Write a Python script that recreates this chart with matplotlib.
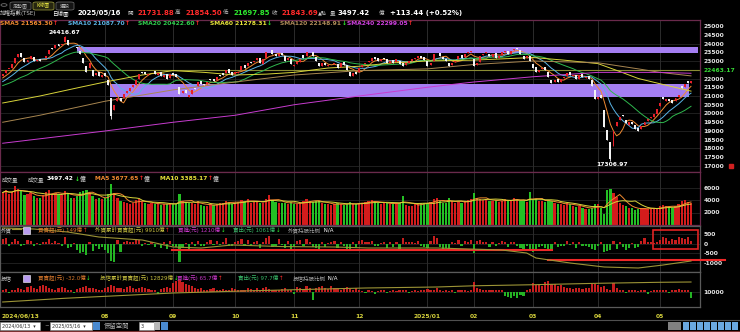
import numpy as np
import pandas as pd
import matplotlib
matplotlib.use("Agg")
import matplotlib.pyplot as plt
from matplotlib.patches import Rectangle, FancyBboxPatch

plt.rcParams['font.family'] = ['DejaVu Sans', 'Noto Sans CJK TC']

# ---------------- data ----------------
month_labels = ['2024/06/13', '08', '09', '10', '11', '12', '2025/01', '02', '03', '04', '05']
month_pos = [0, 33, 55, 75, 94, 115, 137, 152, 171, 192, 212]

closes = [
    22260, 22500, 22570, 22820, 23180, 23410, 23250, 22930, 23030, 23300, 23000, 23030,
    23000, 23070, 23300, 23650, 23700, 23900, 23880, 24000, 24390, 23900, 23880, 23930, 23750, 23400,
    22870, 22400, 22870, 22150, 22300, 22150, 22200,
    22140, 21640, 19830, 20500, 20900, 20700, 21100, 21300, 21450, 21620, 21900, 22250, 22300, 22240,
    22280, 22400, 22250, 22300, 22150, 22200, 22000, 22270,
    22200, 22100, 21100, 21300, 21150, 21050, 21340, 21400, 21800, 21700, 21650, 21800, 21900, 21850,
    22100, 22150, 22200, 22500, 22300, 22220,
    22400, 22400, 22700, 22600, 22900, 22900, 23000, 23200, 22900, 23100, 23500, 23600, 23400, 23300,
    23400, 23350, 23000, 23200, 22850,
    22800, 22950, 23100, 23200, 23500, 23550, 23300, 23000, 22700, 22900, 22750, 22750, 22800, 22900,
    22600, 22900, 22800, 22500, 22150, 22300, 22260,
    22600, 22800, 22900, 23000, 23200, 23100, 23000, 23100, 23100, 22900, 23000, 22900, 23100, 22850,
    22700, 22900, 23000, 23100, 23200, 23300, 23200, 23035,
    22700, 22900, 23400, 23550, 23300, 23100, 23000, 22700, 22900, 23000, 23300, 23200, 23400, 23500, 23600,
    22700, 22900, 23300, 23400, 23500, 23300, 23400, 23200, 23300, 23500, 23600, 23400, 23600, 23700,
    23700, 23400, 23100, 23300, 23000,
    22600, 22400, 22500, 22600, 22500, 22100, 21750, 21900, 21800, 22000, 22100, 22300, 22200, 22200,
    22000, 22200, 22100, 22100, 22000, 21600, 20800,
    20950, 20900, 19232, 18460, 17391, 19000, 19530, 19800, 19830, 19460, 19500, 19400, 19100, 19000,
    19300, 19500, 19700, 19800, 19950, 20235,
    20600, 20800, 20850, 20700, 20600, 20900, 21050, 21450, 21700, 21730, 21843.69,
]
opens = [
    22150, 22300, 22550, 22600, 22900, 23250, 23450, 23200, 22950, 23100, 23250, 23000,
    23100, 23050, 23150, 23400, 23750, 23750, 23950, 23900, 24100, 24200, 23850, 23900, 23800, 23600,
    23200, 22700, 22600, 22500, 22200, 22350, 22100,
    22300, 21900, 20900, 20200, 20700, 20900, 20900, 21150, 21300, 21500, 21650, 22000, 22350, 22350,
    22200, 22350, 22450, 22200, 22350, 22100, 22250, 22050,
    22300, 22250, 21500, 21150, 21350, 20950, 21100, 21450, 21550, 21850, 21700, 21700, 21950, 21950,
    21900, 22200, 22300, 22300, 22550, 22350,
    22250, 22300, 22500, 22750, 22700, 22950, 22950, 23050, 23150, 22850, 23200, 23550, 23650, 23400,
    23300, 23450, 23300, 23050, 23100,
    22700, 22850, 22950, 23350, 23300, 23600, 23500, 23250, 22900, 22700, 22900, 22700, 22750, 22850,
    22850, 22650, 22950, 22750, 22400, 22150, 22350,
    22350, 22650, 22850, 22950, 23000, 23250, 23150, 23000, 23150, 23100, 22900, 23050, 22950, 23000,
    22900, 22750, 22900, 23000, 23100, 23200, 23300, 23250,
    23000, 22750, 23000, 23600, 23450, 23250, 23100, 22900, 22750, 22950, 23100, 23350, 23250, 23450, 23500,
    23100, 22800, 22950, 23350, 23450, 23400, 23250, 23450, 23150, 23350, 23500, 23550, 23400, 23650,
    23750, 23650, 23300, 23150, 23300,
    22850, 22650, 22350, 22550, 22650, 22400, 21900, 21800, 21950, 21800, 22050, 22150, 22350, 22150,
    22200, 21950, 22250, 22050, 22150, 21900, 21350,
    20850, 21050, 20200, 19050, 18370, 18150, 19300, 19650, 19900, 19650, 19350, 19500, 19350, 19150,
    19100, 19350, 19550, 19750, 19800, 19950,
    20400, 20950, 20700, 20850, 20750, 20700, 20950, 21550, 21500, 21850, 21731.88,
]
prev_close0 = 22100
peak_high = (20, 24416.67)
trough_low = (196, 17306.97)
aug5_low = (35, 19662)

# 19 closes before 2024/06/13, for the short moving averages
pre_closes = [21250, 21200, 21300, 21500, 21350, 21600, 21600, 21500, 21200, 21200,
              21400, 21350, 21600, 21800, 21900, 21850, 21950, 22000, 22100]

# long moving averages
sma60_idx = [0, 12, 25, 33, 45, 55, 65, 75, 85, 94, 105, 115, 126, 137, 152, 171, 181, 192, 199, 205, 212, 222]
sma60_val = [20600, 21000, 21500, 21800, 22200, 22450, 22350, 22200, 22250, 22350, 22600, 22700,
             22900, 23000, 23050, 23200, 23050, 22850, 22400, 22000, 21700, 21278.31]
sma120_idx = [0, 12, 33, 55, 75, 94, 115, 137, 152, 171, 192, 205, 212, 222]
sma120_val = [19500, 19900, 20700, 21350, 21800, 22200, 22450, 22550, 22800, 23000, 22900, 22550, 22350, 22148.91]
sma240_idx = [0, 33, 55, 75, 94, 115, 137, 152, 171, 192, 212, 222]
sma240_val = [18300, 19000, 19500, 19900, 20500, 21000, 21500, 21800, 22100, 22350, 22350, 22299.05]

ref_line = 22463.17
band_hi = (23480, 23820, 24.0, 224.3)
band_lo = (20960, 21670, 34.6, 221.4)

volume = [
    5200, 5600, 5000, 5300, 6200, 5700, 5400, 4800, 5000, 5200, 4600, 4300,
    4400, 4800, 5300, 5600, 4900, 5100, 5000, 4800, 5500, 5000, 4300, 4400, 4600, 5300, 5400, 5600,
    5200, 4700, 4200, 4300, 4200,
    4300, 5000, 6500, 5200, 4300, 3900, 3700, 3600, 3400, 3600, 4000, 4200, 3700, 3500, 3400, 3600,
    3300, 3400, 3200, 3300, 3400, 3500,
    3400, 3300, 5000, 3800, 3700, 3600, 3500, 3400, 3800, 3200, 3000, 3100, 3300, 3200, 3300, 3500,
    3600, 3900, 3700, 3400,
    3600, 3700, 4000, 3800, 4100, 3600, 3700, 3900, 3600, 3500, 4200, 4800, 4000, 3700, 3600, 3500,
    3600, 3400, 3700,
    3400, 3300, 3500, 3800, 4200, 3900, 3700, 3800, 3900, 3500, 3400, 3300, 3200, 3300, 3500, 3400,
    3200, 3300, 3700, 3400, 3300,
    3500, 3600, 3700, 3800, 4000, 3700, 3500, 3400, 3600, 3500, 3300, 3400, 3500, 3600, 4600, 3200,
    3100, 3000, 3300, 3400, 3500, 3600,
    3500, 3700, 4100, 4400, 3800, 3600, 3500, 4400, 3800, 3500, 3700, 3600, 3800, 4000, 4100,
    5100, 4300, 4200, 4000, 4100, 3900, 3800, 4000, 3700, 3900, 4200, 3800, 4000, 4300, 4100, 3800,
    3900, 3700, 5300,
    4000, 4200, 3900, 3800, 3700, 4000, 3800, 3500, 3300, 3400, 3200, 3500, 3300, 3100, 2900, 3000,
    2800, 2600, 2500, 2700, 3300,
    3300, 2800, 1800, 5600, 5700, 5100, 4500, 3500, 3200, 3000, 2800, 2700, 2400, 2500, 2700, 2800,
    2600, 2500, 2700, 2600,
    3000, 3200, 3100, 2900, 2800, 3000, 3300, 3900, 4000, 3700, 3497.42,
]

foreign = [
    250, 300, -80, 120, 280, 150, -100, -60, 200, 150, -120, 50,
    -50, 80, 120, 250, 60, 150, 40, -80, 350, -200, -150, 60, -300, -450, -400, -600, 80, -350,
    -100, -250, -150,
    -300, -450, -900, -950, 200, -400, 100, 150, 120, 80, 250, 200, -100, 50, -50, 100, -150, 60,
    -200, 80, -250, 150,
    -100, -150, -950, -200, 60, -300, 100, -100, 150, -80, -120, 100, 200, -60, 150, -50, 80, 300,
    -100, -80,
    120, 150, 250, -100, 200, -80, 120, 150, -200, 80, 300, 400, -150, -100, 250, -60, -200, 150, -250,
    -100, 150, 200, -80, 250, 100, -150, -200, -300, 80, -150, 60, 100, 150, -200, 120, -100, -250,
    -300, 80, -150,
    150, 200, 100, 80, 150, -100, -120, 60, 100, -200, 80, -150, 100, -250, 300, 120, 100, 80, 60,
    150, -100, -150,
    -200, 150, 400, 300, -150, -250, -200, -350, 100, 60, 200, -80, 150, 100, 200,
    -500, 150, 200, 120, 100, -150, 80, -100, 60, 150, 100, -150, 100, 120, -80, -200, -250, -100, -300,
    -400, -250, -150, -100, -200, -300, -350, 100, -150, -100, -80, 150, -60, 80, -200, 100, -100,
    -80, -150, -250, -300,
    -100, 80, -400, -350, -300, 150, -250, 100, -150, -300, -200, 50, -200, -150, 150, 300, 100, 80, 60, 120,
    200, 350, 300, 150, 250, 200, 380, 300, 250, 350, 149,
]
fcum_idx = [0, 10, 21, 31, 45, 55, 64, 74, 90, 107, 118, 140, 161, 169, 172, 183, 194, 205, 213, 222]
fcum_val = [16510, 16310, 15710, 14710, 14110, 12710, 12510, 13110, 12800, 12710, 12510, 12510,
            12110, 11510, 10510, 9510, 8710, 8510, 9110, 9910]

trust = [
    10, 15, -5, 12, 8, 20, 15, 10, 25, 30, 20, 15,
    28, 35, 30, 22, 15, 10, 18, 25, 20, 12, 8, -5, 15, 20, 25, 30, 18, 22, 15, 10, 12,
    20, 25, 35, 30, 18, 22, 15, 25, 28, 20, 15, 18, 25, 20, 15, 12, 10, -8, 15, 20, 25, 18,
    45, 55, 60, 50, 40, 35, 28, 20, 15, 18, 12, 10, 15, 20, 12, 8, 15, 10, 12, 18,
    15, 10, 12, 8, 20, 15, 10, 18, 12, 22, 25, 15, 10, 12, 8, 15, 20, 10, 12,
    -10, 25, 20, 15, 30, 22, -40, 18, 25, 30, 20, 15, 28, 22, 18, 12, 20, 25, 15, 10, 18,
    8, 5, -5, 10, 6, -8, 5, 8, 10, -5, 6, 8, 5, 10, 12, 8, -6, 5, 10, 6, 8, 10,
    15, 12, 10, 18, 8, 5, 10, 6, 8, -5, 10, 12, 8, 6, 10,
    50, 20, 15, 10, 12, 8, 10, 12, 8, 10, -20, -25, -30, -22, -28, -15, -20, 10, 15,
    45, 35, 40, 30, 50, 55, 42, 38, 30, 35, 25, 20, 18, 15, 22, 20, 15, 18, 22, 38, 40,
    35, 25, 30, 15, 12, 45, 20, 10, 8, -5, 10, 12, 8, 5, 10, 8, -8, 6, 10, 8,
    10, 8, 12, -6, 10, 8, 15, 10, 12, 8, -32.0,
]
tcum_idx = [0, 20, 40, 55, 80, 117, 140, 152, 170, 192, 212, 222]
tcum_val = [10829, 11200, 11500, 11729, 11950, 12229, 12329, 12450, 12550, 12700, 12800, 12829]

assert len(closes) == len(opens) == len(volume) == len(foreign) == len(trust) == 223

# ---------------- figure ----------------
W, H = 740, 332
fig = plt.figure(figsize=(W / 100, H / 100), dpi=100, facecolor='black')
rend = fig.canvas.get_renderer()

RED, WHITE, GREEN = '#e8202a', '#f2f2f2', '#22c422'
GRID = '#2c2c2c'
FRAME1, FRAME2 = '#6a2a4c', '#5a5a5a'
XMIN, XMAX = -0.87, 224.9


def fx(x):
    return x / W


def fy(y):
    return 1 - y / H


def put(x, y, s, c, size=4.0, bold=False, ha='left'):
    t = fig.text(fx(x), fy(y), s, color=c, fontsize=size,
                 fontweight='bold' if bold else 'normal', ha=ha, va='center')
    return t.get_window_extent(renderer=rend).width


def chain(x, y, parts, size=4.0, bold=False):
    for s, c in parts:
        x += put(x, y, s, c, size, bold) + 0.5
    return x


def panel(y0, y1, frame):
    ax = fig.add_axes([0, fy(y1), 700 / W, (y1 - y0) / H])
    ax.set_facecolor('black')
    ax.set_xlim(XMIN, XMAX)
    ax.set_xticks([])
    for s in ax.spines.values():
        s.set_color(frame)
        s.set_linewidth(0.9)
    for v in month_pos[1:]:
        ax.axvline(v, color=GRID, lw=0.7, zorder=0)
    return ax


def right_ticks(ax, ticks, labels):
    ax.yaxis.tick_right()
    ax.set_yticks(ticks, labels, fontweight='bold')
    ax.tick_params(axis='y', length=0, pad=2.5, labelsize=4.3, labelcolor='#e6e6e6')


idx = np.arange(len(closes))
o = np.array(opens, float)
c = np.array(closes, float)
up = c >= o
prev = np.r_[prev_close0, c[:-1]]

# ---------- price panel ----------
axp = panel(20, 172, FRAME1)
axp.set_ylim(16657, 25343)
pt = [p for p in range(25000, 16999, -500) if p != 22500]
right_ticks(axp, pt, [str(p) for p in pt])
for p in range(24000, 16999, -1000):
    axp.axhline(p, color=GRID, lw=0.5, zorder=0)

for lo_, hi_, i0, i1 in (band_hi, band_lo):
    axp.add_patch(Rectangle((i0, lo_), i1 - i0, hi_ - lo_, color='#a47ef2', lw=0, zorder=1))
axp.axhline(ref_line, color='#8a8c34', lw=0.8, zorder=2)

s_all = pd.Series(pre_closes + closes)
n_pre = len(pre_closes)
sma5 = s_all.rolling(5).mean().iloc[n_pre:].values
sma10 = s_all.rolling(10).mean().iloc[n_pre:].values
sma20 = s_all.rolling(20).mean().iloc[n_pre:].values
axp.plot(idx, sma5, color='#f08a30', lw=0.7, zorder=3)
axp.plot(idx, sma10, color='#5ab4e6', lw=0.7, zorder=3)
axp.plot(idx, sma20, color='#2fb84e', lw=0.7, zorder=3)
axp.plot(sma60_idx, sma60_val, color='#d8d43a', lw=0.7, zorder=3)
axp.plot(sma120_idx, sma120_val, color='#a88650', lw=0.7, zorder=3)
axp.plot(sma240_idx, sma240_val, color='#c83cd0', lw=0.7, zorder=3)

hi = np.maximum(o, c)
lo = np.minimum(o, c)
hi_w = hi.copy()
lo_w = lo.copy()
hi_w[peak_high[0]] = peak_high[1]
lo_w[trough_low[0]] = trough_low[1]
lo_w[aug5_low[0]] = aug5_low[1]
ccol = np.where(up, RED, WHITE)
axp.vlines(idx, lo_w, hi_w, colors=ccol, lw=0.6, zorder=4)
axp.bar(idx, np.maximum(hi - lo, 25), bottom=lo, width=0.64, color=ccol, lw=0, zorder=4)

axp.text(peak_high[0], peak_high[1] + 80, '24416.67', color='white', fontsize=4.3,
         fontweight='bold', ha='center', va='bottom')
axp.text(trough_low[0] + 0.5, trough_low[1] - 90, '17306.97', color='white', fontsize=4.3,
         fontweight='bold', ha='center', va='top')
put(703, 70, '22463.17', '#36d836', 4.3, True)
fig.patches.append(Rectangle((fx(729), fy(168)), 4 / W, 4 / H, color='#d02020',
                             transform=fig.transFigure, figure=fig))

# ---------- volume panel ----------
axv = panel(172, 225, FRAME1)
axv.set_ylim(0, 8480)
right_ticks(axv, [2000, 4000, 6000], ['2000', '4000', '6000'])
for v in (2000, 4000, 6000):
    axv.axhline(v, color=GRID, lw=0.5, zorder=0)
vol = np.array(volume, float)
vcol = np.where(c >= prev, '#d41c1c', '#24c024')
axv.bar(idx, vol, width=0.72, color=vcol, lw=0, zorder=2)
vs = pd.Series(vol)
axv.plot(idx, vs.rolling(5, min_periods=1).mean(), color='#f08a30', lw=0.7, zorder=3)
axv.plot(idx, vs.rolling(10, min_periods=1).mean(), color='#d8d43a', lw=0.7, zorder=3)

# ---------- foreign investors panel ----------
axf = panel(226, 272, FRAME2)
axf.set_ylim(-1474, 947)
for v in (500, 0, -500, -1000):
    axf.axhline(v, color=GRID, lw=0.5, zorder=0)
fv = np.array(foreign, float)
axf.bar(idx, fv, width=0.7, color=np.where(fv >= 0, '#c81e1e', '#24b424'), lw=0, zorder=2)
axf2 = axf.twinx()
axf2.set_ylim(7710, 16910)
axf2.set_yticks([])
axf2.set_xlim(XMIN, XMAX)
axf2.plot(fcum_idx, fcum_val, color='#9c9436', lw=0.8, zorder=3)
for s in axf2.spines.values():
    s.set_visible(False)
right_ticks(axf, [500, 0, -500, -1000], ['500', '0', '-500', '-1000'])
axf.add_patch(Rectangle((209.8, -263), 14.5, 1000, fill=False, ec='#e02424', lw=1.2, zorder=5))
axf.plot([54.7, 177.2], [-316, -316], color='#f02828', lw=1.5, zorder=5)
axf.plot([176, 233], [-842, -842], color='#f02828', lw=1.5, zorder=5, clip_on=False)

# ---------- investment trust panel ----------
axt = panel(272, 307, FRAME2)
axt.set_ylim(-75, 100)
axt.set_yticks([])
axt.axhline(0, color=GRID, lw=0.5, zorder=0)
tv = np.array(trust, float)
axt.bar(idx, tv, width=0.7, color=np.where(tv >= 0, '#c81e1e', '#24b424'), lw=0, zorder=2)
axt2 = axt.twinx()
axt2.set_ylim(10329, 13829)
axt2.set_yticks([])
axt2.set_xlim(XMIN, XMAX)
axt2.plot(tcum_idx, tcum_val, color='#9c9436', lw=0.8, zorder=3)
for s in axt2.spines.values():
    s.set_visible(False)
axt.set_yticks([])
put(703, 292, '10000', '#e6e6e6', 4.3, True)

# ---------- date labels ----------
for pos, lab in zip(month_pos, month_labels):
    xp = 2.7 + 3.1 * pos
    if pos == 0:
        put(1, 316, lab, '#d6d23c', 4.3, True)
    else:
        put(xp, 316, lab, '#d6d23c', 4.3, True, ha='center')
fig.add_artist(plt.Line2D([0, 1], [fy(320), fy(320)], color='#505050', lw=0.8))
fig.add_artist(plt.Line2D([0, 1], [fy(331), fy(331)], color='#7a3030', lw=0.8))

# ---------- top tabs and quote header ----------
fig.add_artist(plt.Circle((fx(4), fy(5)), 3 / W, color='#707070', fill=False, lw=0.6))
for (x0, x1, s, tc, fc, ec) in [(10, 31, '走勢圖', '#b0b0b0', '#141414', '#707070'),
                                 (33, 54, 'K線圖', '#e2e040', '#262610', '#a0a040'),
                                 (56, 74, '選股', '#b0b0b0', '#141414', '#707070')]:
    fig.add_artist(FancyBboxPatch((fx(x0), fy(10)), (x1 - x0) / W, 8 / H,
                                  boxstyle='round,pad=0,rounding_size=0.004',
                                  fc=fc, ec=ec, lw=0.5, transform=fig.transFigure))
    put((x0 + x1) / 2, 6, s, tc, 3.6, ha='center')

GRAY = '#c4c4c4'
put(0, 13, '加權指數(TSE)', GRAY, 4.0)
put(52, 13, '日線圖', 'white', 4.0)
put(77, 13, '2025/05/16', 'white', 5.0, True)
put(127, 13, '開', GRAY, 4.0)
put(137, 13, '21731.88', '#ff2a2a', 5.0, True)
put(175, 13, '高', GRAY, 4.0)
put(185, 13, '21854.50', '#ff2a2a', 5.0, True)
put(223, 13, '低', GRAY, 4.0)
put(233, 13, '21697.85', '#2ee82e', 5.0, True)
put(272, 13, '收', GRAY, 4.0)
put(282, 13, '21843.69', '#ff2a2a', 5.0, True)
put(318, 13, '▲點', GRAY, 3.6)
put(330, 13, '量', GRAY, 4.0)
put(338, 13, '3497.42', 'white', 5.0, True)
put(379, 13, '億', GRAY, 4.0)
put(390, 13, '+113.44 (+0.52%)', 'white', 5.0, True)

UPA, DNA = '#ff2a2a', '#2ee82e'
sma_row = [(0, 'SMA5 21563.30', '#f08a30', '↑', UPA),
           (68, 'SMA10 21087.70', '#5ab4e6', '↑', UPA),
           (138, 'SMA20 20422.60', '#2fd04e', '↑', UPA),
           (210, 'SMA60 21278.31', '#e8e43a', '↓', DNA),
           (280, 'SMA120 22148.91', '#b08c58', '↓', DNA),
           (347, 'SMA240 22299.05', '#d040e0', '↑', UPA)]
for x0, s, col, arr, acol in sma_row:
    chain(x0, 23.5, [(s, col), (arr, acol)], 4.3, True)

# volume header
put(2, 179, '成交量', GRAY, 4.0)
put(28, 179, '成交量', GRAY, 4.0)
chain(47, 179, [('3497.42', 'white'), ('↓', DNA), ('億', GRAY)], 4.2, True)
chain(95, 179, [('MA5 3677.65', '#f08a30'), ('↑', UPA), ('億', GRAY)], 4.2, True)
chain(160, 179, [('MA10 3385.17', '#e8e43a'), ('↑', UPA), ('億', GRAY)], 4.2, True)

# foreign header
put(1, 230, '外資', GRAY, 4.0)
fig.add_artist(plt.Line2D([fx(12), fx(21)], [fy(229), fy(229)], color='#9c9436', lw=0.8))
for yy in (230, 278):
    fig.add_artist(Rectangle((fx(23), fy(yy + 3.5)), 7 / W, 7 / H, fc='#b89cf0', ec='white',
                             lw=0.4, transform=fig.transFigure))
chain(38, 230, [('買賣超(元) 149億', '#d8782c'), ('↑', UPA)], 4.0)
chain(95, 230, [('外資累計買賣超(元) 9910億', '#c8c040'), ('↑', UPA)], 4.0)
chain(178, 230, [('買進(元) 1210億', '#c838c8'), ('↓', DNA)], 4.0)
chain(233, 230, [('賣出(元) 1061億', '#38b868'), ('↓', DNA)], 4.0)
chain(288, 230, [('外資持股比例', '#a8a8a8'), (' N/A', 'white')], 4.0)

# investment trust header
put(1, 278, '投信', GRAY, 4.0)
chain(38, 278, [('買賣超(元) -32.0億', '#d8782c'), ('↓', DNA)], 4.0)
chain(100, 278, [('投信累計買賣超(元) 12829億', '#c8c040'), ('↓', DNA)], 4.0)
chain(177, 278, [('買進(元) 65.7億', '#c838c8'), ('↑', UPA)], 4.0)
chain(238, 278, [('賣出(元) 97.7億', '#38b868'), ('↑', UPA)], 4.0)
chain(293, 278, [('投信持股比例', '#a8a8a8'), (' N/A', 'white')], 4.0)

# ---------- bottom toolbar ----------
def field(x0, x1, s):
    fig.add_artist(Rectangle((fx(x0), fy(330)), (x1 - x0) / W, 8 / H, fc='white', ec='#909090',
                             lw=0.4, transform=fig.transFigure))
    put(x0 + 1.5, 326, s, '#303030', 3.5)


field(0, 40, '2024/06/13  ▾')
put(44, 326, '~', GRAY, 4.0)
field(50, 92, '2025/05/16  ▾')
fig.add_artist(Rectangle((fx(93), fy(330)), 7 / W, 8 / H, fc='#4a8ad0', lw=0,
                         transform=fig.transFigure))
put(104, 326, '保留空間', '#b0b0b0', 4.6)
field(139, 154, '3')
fig.add_artist(Rectangle((fx(154), fy(330)), 6 / W, 8 / H, fc='#b8b8b8', lw=0,
                         transform=fig.transFigure))
fig.add_artist(Rectangle((fx(161), fy(330)), 7 / W, 8 / H, fc='#4a8ad0', lw=0,
                         transform=fig.transFigure))
fig.add_artist(Rectangle((fx(668), fy(330)), 13 / W, 8 / H, fc='#808080', lw=0,
                         transform=fig.transFigure))
for k in range(8):
    fig.add_artist(Rectangle((fx(683 + 7 * k), fy(330)), 6 / W, 8 / H, fc='#6aa8e0', lw=0,
                             transform=fig.transFigure))

fig.savefig('out.png', dpi=100, facecolor='black')
